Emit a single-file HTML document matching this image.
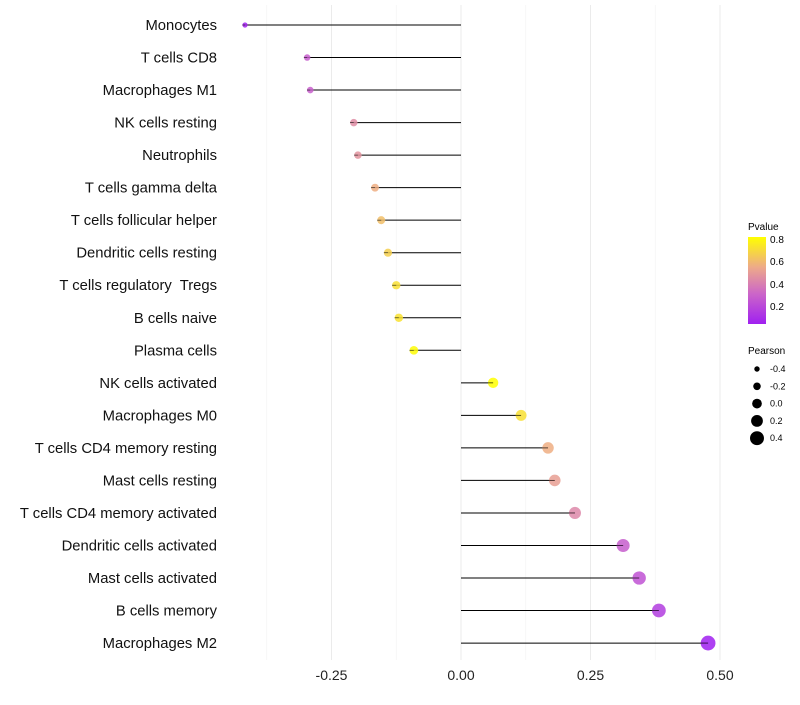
<!DOCTYPE html>
<html><head><meta charset="utf-8"><style>
body{margin:0;background:#fff;font-family:"Liberation Sans",sans-serif}
text{white-space:pre}
</style></head><body>
<svg id="chart" width="800" height="700" xmlns="http://www.w3.org/2000/svg">
<defs><linearGradient id="pg" x1="0" y1="1" x2="0" y2="0">
<stop offset="0" stop-color="#a020f0"/><stop offset="0.35" stop-color="#cc66c8"/><stop offset="0.65" stop-color="#eda98a"/><stop offset="1" stop-color="#ffff00"/></linearGradient></defs>
<g id="grid"></g><g id="marks"></g><g id="labels"></g>
<g font-size="10">
<text x="748" y="230">Pvalue</text>
<rect x="748" y="237" width="18" height="87" fill="url(#pg)"/>
<text x="770" y="243">0.8</text><text x="770" y="265">0.6</text><text x="770" y="288">0.4</text><text x="770" y="310">0.2</text>
</g>
<g id="sizeleg" font-size="9">
<text x="748" y="354" font-size="10">Pearson</text>
</g>
</svg>
<script>
const categories=["Monocytes","T cells CD8","Macrophages M1","NK cells resting","Neutrophils","T cells gamma delta","T cells follicular helper","Dendritic cells resting","T cells regulatory  Tregs","B cells naive","Plasma cells","NK cells activated","Macrophages M0","T cells CD4 memory resting","Mast cells resting","T cells CD4 memory activated","Dendritic cells activated","Mast cells activated","B cells memory","Macrophages M2"];
const pearson=[-0.417,-0.297,-0.291,-0.207,-0.199,-0.166,-0.154,-0.141,-0.125,-0.120,-0.091,0.062,0.116,0.168,0.181,0.220,0.313,0.344,0.382,0.477];
const pvalues=[0.05,0.27,0.28,0.44,0.46,0.55,0.6,0.65,0.7,0.71,0.79,0.82,0.7,0.55,0.5,0.42,0.27,0.23,0.15,0.04];
const xticks=[-0.25,0,0.25,0.5];
const xtickLabels=["-0.25","0.00","0.25","0.50"];
const sizeLegend=[-0.4,-0.2,0,0.2,0.4];
const NS="http://www.w3.org/2000/svg";
const X=v=>461+v*518;
const Y=i=>25+i*32.53;
const R=v=>2.6+(v+0.42)/0.9*4.8;
function col(p){const t=Math.max(0,Math.min(1,(p-0.04)/0.76));
const s=[[0,[160,32,240]],[0.35,[204,102,200]],[0.65,[237,169,138]],[1,[255,255,0]]];
for(let k=1;k<s.length;k++){if(t<=s[k][0]){const a=s[k-1],b=s[k],f=(t-a[0])/(b[0]-a[0]);
return "rgb("+a[1].map((c,j)=>Math.round(c+(b[1][j]-c)*f)).join(",")+")";}}return "rgb(255,255,0)";}
function mk(tag,attrs,parent){const e=document.createElementNS(NS,tag);for(const k in attrs)e.setAttribute(k,attrs[k]);parent.appendChild(e);return e;}
const grid=document.getElementById('grid'),marks=document.getElementById('marks'),labels=document.getElementById('labels');
[-0.375,-0.125,0.125,0.375].forEach(v=>{const l=mk('line',{x1:X(v),x2:X(v),y1:5,y2:660,stroke:'#f2f2f2','stroke-width':0.6},grid);

});
xticks.forEach((v,i)=>{const l=mk('line',{x1:X(v),x2:X(v),y1:5,y2:660,stroke:'#ebebeb','stroke-width':1},grid);


const t=mk('text',{x:X(v),y:680,'text-anchor':'middle','font-size':14,fill:'#222'},labels);t.textContent=xtickLabels[i];

});
categories.forEach((c,i)=>{const y=Y(i);
const t=mk('text',{x:217,y:y+5,'text-anchor':'end','font-size':14.8,fill:'#111'},labels);t.textContent=c;


const l=mk('line',{x1:X(0),x2:X(pearson[i]),y1:y,y2:y,stroke:'#000','stroke-width':1},marks);


const d=mk('circle',{cx:X(pearson[i]),cy:y,r:R(pearson[i]),fill:col(pvalues[i]),'fill-opacity':0.85},marks);


mk('line',{x1:X(pearson[i])-R(pearson[i]),x2:X(pearson[i]),y1:y,y2:y,stroke:'#000','stroke-width':0.8,'stroke-opacity':0.7},marks);});
const sl=document.getElementById('sizeleg');
sizeLegend.forEach((v,i)=>{const y=369+i*17.3;
const c=mk('circle',{cx:757,cy:y,r:R(v),fill:'#000'},sl);


const t=mk('text',{x:770,y:y+3},sl);t.textContent=v.toFixed(1);

});
</script>
</body></html>
